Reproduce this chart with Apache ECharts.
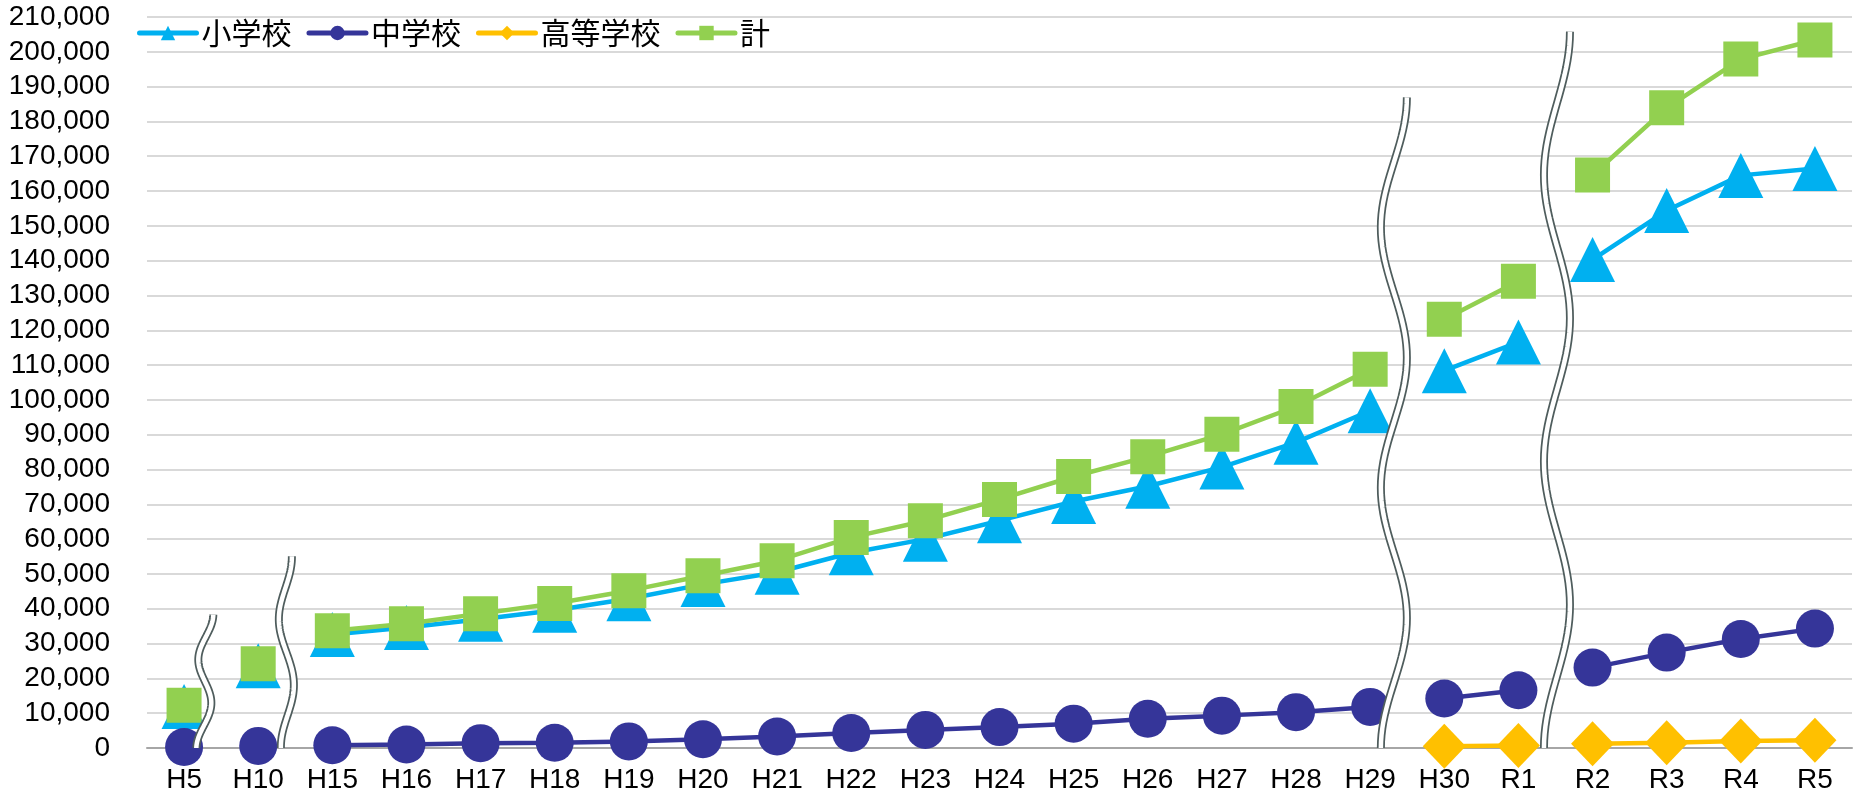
<!DOCTYPE html>
<html>
<head>
<meta charset="utf-8">
<script src="https://cdn.jsdelivr.net/npm/echarts@6.0.0/dist/echarts.min.js"></script>
<style>
html,body{margin:0;padding:0;background:#fff}
#c2{width:1862px;height:798px}
</style>
</head>
<body>
<div id="c2"></div>
<script>
// 年度
var years = ['H5','H10','H15','H16','H17','H18','H19','H20','H21','H22','H23','H24','H25','H26','H27','H28','H29','H30','R1','R2','R3','R4','R5']
// 小学校
var shogakko = [11900,23600,32600,34600,37000,39600,42900,47000,50500,56100,60000,65300,70800,75200,80700,87800,96900,108400,116600,140300,154400,164500,166500]
// 中学校
var chugakko = [300,600,800,1000,1400,1500,1900,2500,3300,4300,5200,6000,7000,8400,9300,10300,11800,14200,16600,23100,27400,31300,34300]
// 高等学校
var kotogakko = [null,null,null,null,null,null,null,null,null,null,null,null,null,null,null,null,null,500,700,1200,1500,2000,2200]
// 計
var total = [12300,24200,33700,35700,38600,41500,45200,49500,53800,60500,65300,71400,78000,83700,90100,98100,108800,123200,134100,164600,183900,197900,203400]

// 線が途切れる区間
var segments = [[0,0],[1,1],[2,16],[17,18],[19,22]]

var font = "'Liberation Sans','Noto Sans CJK JP',sans-serif"

function comma(v){
	return String(v).replace(/\B(?=(\d{3})+(?!\d))/g, ',')
}

function segSeries(name, vals, color, symbol, size){
	var out = []
	for (var k = 0; k < segments.length; k++){
		var a = segments[k][0], b = segments[k][1]
		var d = vals.map(function(v, i){ return (i >= a && i <= b) ? v : null })
		out.push({
			name: name,
			type: 'line',
			data: d,
			symbol: symbol,
			symbolSize: size,
			showAllSymbol: true,
			connectNulls: false,
			lineStyle: {color: color, width: 4.5},
			itemStyle: {color: color},
			emphasis: {disabled: true},
			animation: false
		})
	}
	return out
}

var series = []
	.concat(segSeries('小学校', shogakko, '#00B0F0', 'triangle', 45))
	.concat(segSeries('中学校', chugakko, '#353599', 'circle', 38))
	.concat(segSeries('高等学校', kotogakko, '#FFC000', 'diamond', [43,45]))
	.concat(segSeries('計', total, '#92D050', 'rect', 35))

var myChart = echarts.init(document.getElementById('c2'))
myChart.setOption({
	backgroundColor: '#fff',
	animation: false,
	grid: {left: 147, right: 10, top: 17, bottom: 50},
	legend: {
		data: ['小学校','中学校','高等学校','計'],
		left: 137, top: 18, padding: 0,
		itemWidth: 57, itemHeight: 18, itemGap: 15,
		lineStyle: {width: 5, cap: 'round'},
		textStyle: {fontSize: 30, color: '#000', fontFamily: "'Noto Sans CJK JP',sans-serif"}
	},
	xAxis: {
		type: 'category',
		data: years,
		axisLine: {lineStyle: {color: '#a6a6a6', width: 2}},
		axisTick: {show: false},
		axisLabel: {interval: 0, margin: 18, fontSize: 28, color: '#000', fontFamily: font}
	},
	yAxis: {
		type: 'value',
		min: 0, max: 210000, interval: 10000,
		axisLine: {show: false},
		axisTick: {show: false},
		splitLine: {lineStyle: {color: '#d9d9d9', width: 2}},
		axisLabel: {margin: 37, fontSize: 28, color: '#000', fontFamily: font, formatter: comma}
	},
	series: series
})

// 省略の波線
var breaks = [
	{a: 0, r: 0.28, top: 38300, amp: 7, k: 3, lean: 3},
	{a: 1, r: 0.38, top: 55100, amp: 7, k: 3, lean: -3},
	{a: 16, r: 0.32, top: 186900, amp: 13, k: 5, lean: 0},
	{a: 18, r: 0.52, top: 205800, amp: 13, k: 5, lean: 0}
]
var elements = []
breaks.forEach(function(b){
	var x0 = myChart.convertToPixel({xAxisIndex: 0}, years[b.a])
	var x1 = myChart.convertToPixel({xAxisIndex: 0}, years[b.a + 1])
	var xm = x0 + (x1 - x0) * b.r
	var yt = myChart.convertToPixel({yAxisIndex: 0}, b.top)
	var yb = myChart.convertToPixel({yAxisIndex: 0}, 0)
	var pts = []
	for (var i = 0; i <= 100; i++){
		var s = i / 100
		pts.push([xm + b.lean * (0.5 - s) + b.amp * Math.cos(Math.PI * b.k * s), yt + (yb - yt) * s])
	}
	elements.push({type: 'polyline', z: 100, shape: {points: pts}, style: {stroke: '#4f5d5d', lineWidth: 8, fill: null}})
	elements.push({type: 'polyline', z: 101, shape: {points: pts}, style: {stroke: '#fff', lineWidth: 4.5, fill: null}})
})
myChart.setOption({graphic: elements})
</script>
</body>
</html>
